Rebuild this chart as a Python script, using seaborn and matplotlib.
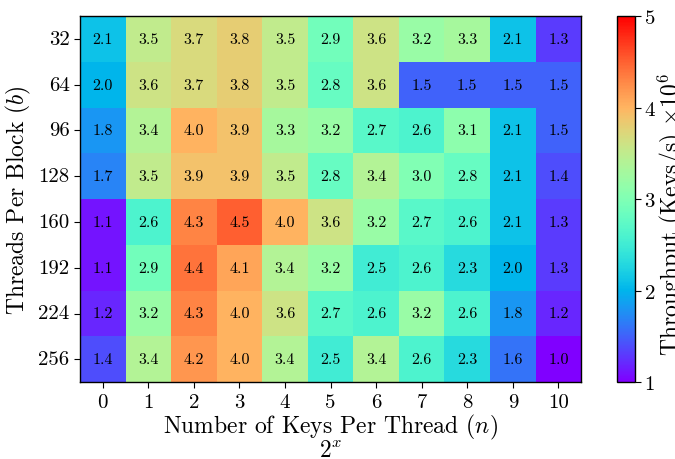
import matplotlib
matplotlib.use("Agg")
import matplotlib.pyplot as plt
import numpy as np
import pandas as pd
import seaborn as sns

plt.rcParams.update({
    "font.family": "serif",
    "font.serif": ["cmr10", "DejaVu Serif"],
    "mathtext.fontset": "cm",
    "axes.formatter.use_mathtext": True,
    "axes.unicode_minus": False,
})

threads_per_block = [32, 64, 96, 128, 160, 192, 224, 256]
keys_exponent = [0, 1, 2, 3, 4, 5, 6, 7, 8, 9, 10]

tp_32  = [2.1, 3.5, 3.7, 3.8, 3.5, 2.9, 3.6, 3.2, 3.3, 2.1, 1.3]
tp_64  = [2.0, 3.6, 3.7, 3.8, 3.5, 2.8, 3.6, 1.5, 1.5, 1.5, 1.5]
tp_96  = [1.8, 3.4, 4.0, 3.9, 3.3, 3.2, 2.7, 2.6, 3.1, 2.1, 1.5]
tp_128 = [1.7, 3.5, 3.9, 3.9, 3.5, 2.8, 3.4, 3.0, 2.8, 2.1, 1.4]
tp_160 = [1.1, 2.6, 4.3, 4.5, 4.0, 3.6, 3.2, 2.7, 2.6, 2.1, 1.3]
tp_192 = [1.1, 2.9, 4.4, 4.1, 3.4, 3.2, 2.5, 2.6, 2.3, 2.0, 1.3]
tp_224 = [1.2, 3.2, 4.3, 4.0, 3.6, 2.7, 2.6, 3.2, 2.6, 1.8, 1.2]
tp_256 = [1.4, 3.4, 4.2, 4.0, 3.4, 2.5, 3.4, 2.6, 2.3, 1.6, 1.0]

throughput = pd.DataFrame(
    [tp_32, tp_64, tp_96, tp_128, tp_160, tp_192, tp_224, tp_256],
    index=threads_per_block,
    columns=keys_exponent,
)

fig = plt.figure(figsize=(6.75, 4.6), dpi=100)
ax = fig.add_axes([0.1185, 0.167, 0.7425, 0.796])
cax = fig.add_axes([0.914, 0.167, 0.027, 0.796])

sns.heatmap(
    throughput, ax=ax, cbar_ax=cax, cmap="rainbow", vmin=1, vmax=5,
    annot=True, fmt=".1f", annot_kws={"fontsize": 11.5, "color": "black"},
    cbar_kws={"ticks": [1, 2, 3, 4, 5]},
)

for spine in ax.spines.values():
    spine.set_visible(True)
    spine.set_color("black")
    spine.set_linewidth(1.0)

ax.tick_params(axis="both", labelsize=15, length=4, color="black")
ax.set_yticklabels(threads_per_block, rotation=0)
ax.set_xticklabels(keys_exponent, rotation=0)
ax.set_ylabel(r"Threads Per Block ($b$)", fontsize=17, labelpad=4)
ax.set_xlabel("Number of Keys Per Thread ($n$)\n$2^x$", fontsize=17,
              linespacing=0.85, labelpad=1)

cbar = ax.collections[0].colorbar
cbar.outline.set_visible(True)
cbar.outline.set_edgecolor("black")
cbar.outline.set_linewidth(1.0)
cax.tick_params(labelsize=15, length=4, pad=2.5)
cbar.set_label(r"Throughput (Keys/s) $\times 10^6$", fontsize=17, labelpad=0)
cax.yaxis.label.set_y(0.46)

fig.savefig("out.png", dpi=100)
